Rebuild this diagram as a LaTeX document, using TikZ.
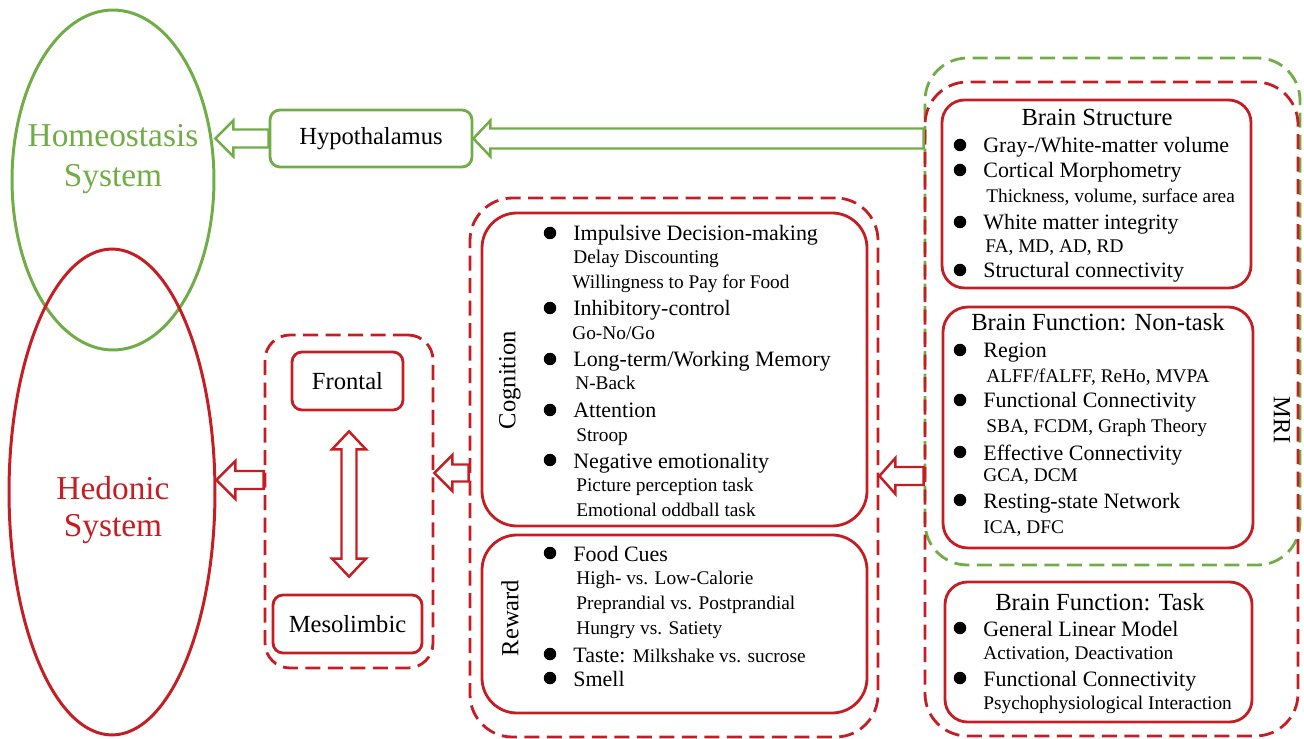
\documentclass[tikz,border=0pt]{standalone}
\usepackage{fontspec}
\setmainfont{Liberation Serif}
\usetikzlibrary{calc,fit,shapes.geometric}
\definecolor{gr}{RGB}{112,173,71}
\definecolor{rd}{RGB}{196,30,36}
\tikzset{
 mainf/.style={font=\fontsize{12.5}{14}\selectfont},
 subf/.style={font=\fontsize{11}{13}\selectfont},
 titlef/.style={font=\fontsize{14}{16}\selectfont},
 bigf/.style={font=\fontsize{19}{22}\selectfont},
 ln/.style={anchor=base west, inner sep=0pt},
 dot/.style={circle, fill=black, inner sep=0pt, minimum size=0.25cm},
 sbox/.style={draw=rd, line width=1.6pt, rounded corners=#1, inner sep=0pt},
 gbox/.style={draw=gr, line width=1.6pt, rounded corners=#1, inner sep=0pt},
 dbox/.style={draw=#1, line width=1.6pt, dash pattern=on 0.3cm off 0.15cm, rounded corners=0.85cm, inner sep=0pt},
 barrow/.style={draw=#1, line width=1.4pt, fill=white, line join=miter},
}
\newcommand\bitem[5]{\node[dot] (d#1) at (#2,#4) {}; \node[ln,mainf] (#1) at (#3,#4+8) {#5};}
\newcommand\sitem[4]{\node[ln,subf] (#1) at (#2,#3+6) {#4};}
\newcommand\blk[6]{\draw[barrow=#1] (#2) -- ($(#2)+(#6,-#5)$) -- ($(#2)+(#6,-#4)$) -- ($(#3)+(0,-#4)$) -- ($(#3)+(0,#4)$) -- ($(#2)+(#6,#4)$) -- ($(#2)+(#6,#5)$) -- cycle;}
\begin{document}
\begin{tikzpicture}[x=0.02cm,y=-0.02cm]
\useasboundingbox (0,0) rectangle (1304,739);
% ellipses
\node[draw=gr, line width=1.7pt, ellipse, minimum width=4.04cm, minimum height=6.8cm, inner sep=0pt] (homeo) at (113,180) {};
\node[draw=rd, line width=1.7pt, ellipse, minimum width=4.12cm, minimum height=9.72cm, inner sep=0pt] (hedon) at (112,492) {};
\node[bigf, text=gr, anchor=base, inner sep=0pt] (ht1) at (113,147) {Homeostasis};
\node[bigf, text=gr, anchor=base, inner sep=0pt] (ht2) at (113,187) {System};
\node[bigf, text=rd, anchor=base, inner sep=0pt] (hd1) at (113,499) {Hedonic};
\node[bigf, text=rd, anchor=base, inner sep=0pt] (hd2) at (113,536) {System};
% hypothalamus
\node[gbox=0.2cm, titlef, minimum width=4.04cm, minimum height=1.14cm] (hyp) at (371,138.5) {Hypothalamus};
% right dashed boxes
\node[dbox=gr, fit={(925,58) (1300,565)}] (mrig) {};
\node[dbox=rd, fit={(925,82) (1298,736)}] (mrir) {};
\node[titlef, rotate=-90, inner sep=0pt] (mri) at (1282,420) {MRI};
% brain structure
\node[sbox=0.45cm, fit={(942,100) (1251,288)}] (bs) {};
\node[titlef, anchor=base, inner sep=0pt] (bst) at (1097,126) {Brain Structure};
\bitem{bs1}{960}{983}{145}{Gray-/White-matter volume}
\bitem{bs2}{960}{983}{170}{Cortical Morphometry}
\sitem{bs3}{986}{197}{Thickness, volume, surface area}
\bitem{bs4}{960}{983}{222}{White matter integrity}
\sitem{bs5}{985}{247}{FA, MD, AD, RD}
\bitem{bs6}{960}{983}{270}{Structural connectivity}
% non-task
\node[sbox=0.5cm, fit={(943,307) (1253,548)}] (nt) {};
\node[titlef, anchor=base, inner sep=0pt] (ntt) at (1098,331) {Brain Function: Non-task};
\bitem{nt1}{960}{983}{350}{Region}
\sitem{nt2}{986}{377}{ALFF/fALFF, ReHo, MVPA}
\bitem{nt3}{960}{983}{400}{Functional Connectivity}
\sitem{nt4}{986}{427}{SBA, FCDM, Graph Theory}
\bitem{nt5}{960}{983}{452}{Effective Connectivity}
\sitem{nt6}{983}{475}{GCA, DCM}
\bitem{nt7}{960}{983}{500}{Resting-state Network}
\sitem{nt8}{983}{527}{ICA, DFC}
% task
\node[sbox=0.45cm, fit={(945,582) (1252,722)}] (tk) {};
\node[titlef, anchor=base, inner sep=0pt] (tkt) at (1100,610) {Brain Function: Task};
\bitem{tk1}{960}{983}{628}{General Linear Model}
\sitem{tk2}{983}{653}{Activation, Deactivation}
\bitem{tk3}{960}{983}{678}{Functional Connectivity}
\sitem{tk4}{983}{703}{Psychophysiological Interaction}
% middle
\node[dbox=rd, fit={(470,198) (878,737)}] (mid) {};
\node[sbox=0.7cm, fit={(482,213) (867,526)}] (cog) {};
\node[titlef, rotate=90, inner sep=0pt] (cogt) at (510,380) {Cognition};
\bitem{c1}{550}{573}{233}{Impulsive Decision-making}
\sitem{c2}{573}{258}{Delay Discounting}
\sitem{c3}{572}{283}{Willingness to Pay for Food}
\bitem{c4}{550}{573}{308}{Inhibitory-control}
\sitem{c5}{572}{334}{Go-No/Go}
\bitem{c6}{550}{573}{359}{Long-term/Working Memory}
\sitem{c7}{575}{384}{N-Back}
\bitem{c8}{550}{573}{410}{Attention}
\sitem{c9}{576}{435}{Stroop}
\bitem{c10}{550}{573}{460}{Negative emotionality}
\sitem{c11}{576}{485}{Picture perception task}
\sitem{c12}{576}{510}{Emotional oddball task}
\node[sbox=0.7cm, fit={(482,535) (867,713)}] (rew) {};
\node[titlef, rotate=90, inner sep=0pt] (rewt) at (510,618) {Reward};
\bitem{r1}{550}{573}{553}{Food Cues}
\sitem{r2}{576}{578}{High- vs. Low-Calorie}
\sitem{r3}{576}{603}{Preprandial vs. Postprandial}
\sitem{r4}{576}{628}{Hungry vs. Satiety}
\bitem{r5}{550}{573}{654}{Taste: {\fontsize{11}{13}\selectfont Milkshake vs. sucrose}}
\bitem{r6}{550}{573}{678}{Smell}
% left dashed
\node[dbox=rd, rounded corners=0.5cm, fit={(265,335) (433,668)}] (lbox) {};
\node[sbox=0.2cm, titlef, minimum width=2.22cm, minimum height=1.16cm] (front) at (347.5,381) {Frontal};
\node[sbox=0.2cm, titlef, minimum width=2.98cm, minimum height=1.16cm] (meso) at (347.5,624) {Mesolimbic};
% arrows
\blk{gr}{hyp.west -| homeo.east}{hyp.west}{9}{18}{18}
\blk{gr}{hyp.east}{hyp.east -| mrig.west}{10}{18}{17}
\blk{rd}{mid.east |- 0,476}{mrir.west |- 0,476}{9}{18}{16}
\blk{rd}{lbox.east |- 0,473}{mid.west |- 0,473}{8.5}{18}{18}
\blk{rd}{hedon.east |- 0,480}{lbox.west |- 0,480}{9}{19}{19}
\coordinate (vt) at ($(front.south)+(1.5,20)$);
\coordinate (vb) at ($(meso.north)+(1.5,-17)$);
\draw[barrow=rd] (vt) -- ($(vt)+(17,18)$) -- ($(vt)+(7.5,18)$) -- ($(vb)+(7.5,-18)$) -- ($(vb)+(17,-18)$) -- (vb) -- ($(vb)+(-17,-18)$) -- ($(vb)+(-7.5,-18)$) -- ($(vt)+(-7.5,18)$) -- ($(vt)+(-17,18)$) -- cycle;
\end{tikzpicture}
\end{document}
